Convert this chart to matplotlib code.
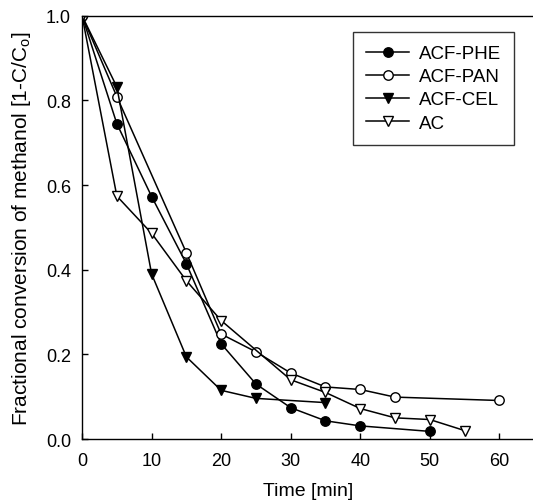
import matplotlib
matplotlib.use("Agg")
import matplotlib.pyplot as plt

plt.rcParams['font.family'] = ['Liberation Sans', 'DejaVu Sans']

phe_t = [0, 5, 10, 15, 20, 25, 30, 35, 40, 50]
phe_y = [1.0, 0.745, 0.573, 0.414, 0.225, 0.13, 0.074, 0.043, 0.031, 0.018]

pan_t = [0, 5, 15, 20, 25, 30, 35, 40, 45, 60]
pan_y = [1.0, 0.809, 0.44, 0.248, 0.206, 0.156, 0.123, 0.117, 0.099, 0.091]

cel_t = [0, 5, 10, 15, 20, 25, 35]
cel_y = [1.0, 0.832, 0.39, 0.194, 0.115, 0.096, 0.086]

ac_t = [0, 5, 10, 15, 20, 30, 35, 40, 45, 50, 55]
ac_y = [1.0, 0.574, 0.486, 0.374, 0.28, 0.14, 0.11, 0.072, 0.05, 0.046, 0.02]

labels = ['ACF-PHE', 'ACF-PAN', 'ACF-CEL', 'AC']

fig = plt.figure(figsize=(5.33, 5.02), dpi=100)
ax = fig.add_axes([0.154, 0.1235, 0.848, 0.843])

lw = 1.1
ms = 6.8
ax.plot(phe_t, phe_y, '-', color='black', lw=lw, marker='o', ms=ms, mfc='black', mec='black', label=labels[0])
ax.plot(pan_t, pan_y, '-', color='black', lw=lw, marker='o', ms=ms, mfc='white', mec='black', label=labels[1])
ax.plot(cel_t, cel_y, '-', color='black', lw=lw, marker='v', ms=ms+0.4, mfc='black', mec='black', label=labels[2])
ax.plot(ac_t, ac_y, '-', color='black', lw=lw, marker='v', ms=ms+0.4, mfc='white', mec='black', label=labels[3])

ax.set_xlim(0, 65)
ax.set_ylim(0, 1.0)
ax.set_xticks([0, 10, 20, 30, 40, 50, 60])
ax.set_yticks([0.0, 0.2, 0.4, 0.6, 0.8, 1.0])
ax.set_yticklabels(['0.0', '0.2', '0.4', '0.6', '0.8', '1.0'])
ax.tick_params(direction='in', length=4, width=1, labelsize=13)
ax.tick_params(axis='x', pad=9)
ax.tick_params(axis='y', pad=8)
ax.spines['right'].set_visible(False)
for s in ['left', 'top', 'bottom']:
    ax.spines[s].set_linewidth(1.0)

ax.set_xlabel('Time [min]', fontsize=14, labelpad=10)
ax.set_ylabel('Fractional conversion of methanol [1-C/C$_\\mathregular{o}$]', fontsize=15, labelpad=9)

leg = ax.legend(loc='upper right', bbox_to_anchor=(0.956, 0.962), fontsize=13.5, frameon=True,
                fancybox=False, edgecolor='black', handlelength=2.3, handletextpad=0.5,
                labelspacing=0.32, borderpad=0.7, borderaxespad=0.0)
leg.get_frame().set_linewidth(1.0)

fig.savefig('out.png', dpi=100)
